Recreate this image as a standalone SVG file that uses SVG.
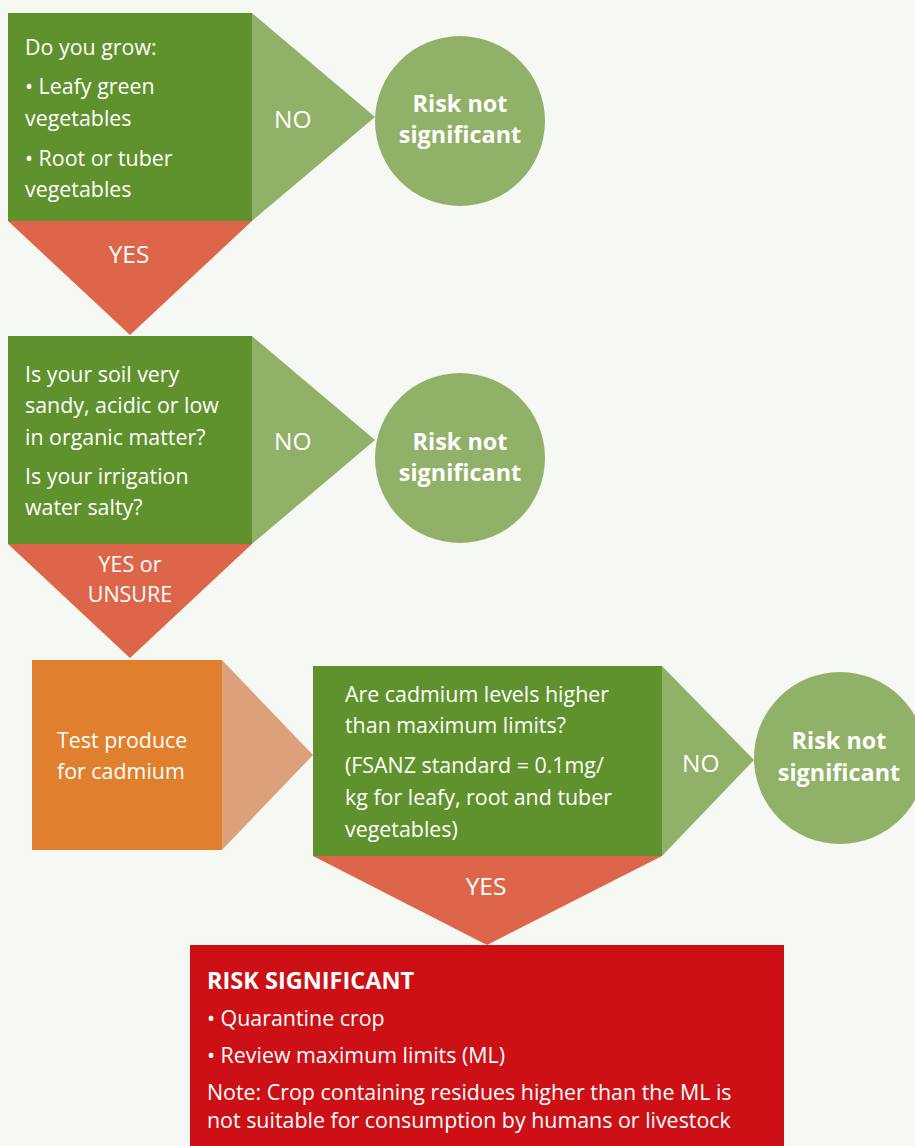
<svg xmlns="http://www.w3.org/2000/svg" width="915" height="1146" viewBox="0 0 915 1146">
<style>
text{font-family:"Open Sans","Noto Sans","Liberation Sans",sans-serif;fill:#ffffff;}
.t{font-size:21.4px;}
.lbl{font-size:24.5px;}
.lbs{font-size:21.5px;}
.b{font-size:23.4px;font-weight:bold;}
.h{font-size:23.5px;font-weight:bold;}
.q{fill:#5f922d;}
.no{fill:#91b068;}
.yes{fill:#dd664a;}
</style>
<rect x="0" y="0" width="915" height="1146" fill="#f6f8f3"/>
<g id="connectors">
  <g id="no1"><polygon class="no" points="252,13 375,117 252,221"/><text class="lbl" x="274" y="128">NO</text></g>
  <g id="yes1"><polygon class="yes" points="8,221 252,221 130,335"/><text class="lbl" x="129" y="263" text-anchor="middle">YES</text></g>
  <g id="no2"><polygon class="no" points="252,336 375,440 252,544"/><text class="lbl" x="274" y="450">NO</text></g>
  <g id="yes2"><polygon class="yes" points="8,544 252,544 130,658"/><text class="lbs" x="130" y="572" text-anchor="middle">YES or</text><text class="lbs" x="130" y="602" text-anchor="middle">UNSURE</text></g>
  <g id="arrow3"><polygon fill="#dca17a" points="222,660 313,755 222,850"/></g>
  <g id="no3"><polygon class="no" points="662,666 754,760 662,856"/><text class="lbl" x="682" y="772">NO</text></g>
  <g id="yes3"><polygon class="yes" points="313,856 662,856 487,945"/><text class="lbl" x="486" y="895" text-anchor="middle">YES</text></g>
</g>
<g id="q1">
  <rect class="q" x="8" y="13" width="244" height="208"/>
  <text class="t" x="25" y="55">Do you grow:</text>
  <text class="t" x="25" y="94">• Leafy green</text>
  <text class="t" x="25" y="126">vegetables</text>
  <text class="t" x="25" y="166">• Root or tuber</text>
  <text class="t" x="25" y="197">vegetables</text>
</g>
<g id="r1">
  <circle class="no" cx="460" cy="121" r="85"/>
  <text class="b" x="460" y="112" text-anchor="middle">Risk not</text>
  <text class="b" x="460" y="143" text-anchor="middle">significant</text>
</g>
<g id="q2">
  <rect class="q" x="8" y="336" width="244" height="208"/>
  <text class="t" x="25" y="382">Is your soil very</text>
  <text class="t" x="25" y="413">sandy, acidic or low</text>
  <text class="t" x="25" y="445">in organic matter?</text>
  <text class="t" x="25" y="484">Is your irrigation</text>
  <text class="t" x="25" y="515">water salty?</text>
</g>
<g id="r2">
  <circle class="no" cx="460" cy="458" r="85"/>
  <text class="b" x="460" y="450" text-anchor="middle">Risk not</text>
  <text class="b" x="460" y="481" text-anchor="middle">significant</text>
</g>
<g id="test">
  <rect fill="#e07f2e" x="32" y="660" width="190" height="190"/>
  <text class="t" x="57" y="748">Test produce</text>
  <text class="t" x="57" y="779">for cadmium</text>
</g>
<g id="q3">
  <rect class="q" x="313" y="666" width="349" height="190"/>
  <text class="t" x="345" y="702">Are cadmium levels higher</text>
  <text class="t" x="345" y="733">than maximum limits?</text>
  <text class="t" x="345" y="773">(FSANZ standard = 0.1mg/</text>
  <text class="t" x="345" y="805">kg for leafy, root and tuber</text>
  <text class="t" x="345" y="837">vegetables)</text>
</g>
<g id="r3">
  <circle class="no" cx="840" cy="758" r="86"/>
  <text class="b" x="839" y="749" text-anchor="middle">Risk not</text>
  <text class="b" x="839" y="781" text-anchor="middle">significant</text>
</g>
<g id="risk">
  <rect fill="#cc1016" x="190" y="945" width="594" height="201"/>
  <text class="h" x="207" y="989">RISK SIGNIFICANT</text>
  <text class="t" x="207" y="1026">• Quarantine crop</text>
  <text class="t" x="207" y="1063">• Review maximum limits (ML)</text>
  <text class="t" x="207" y="1100">Note: Crop containing residues higher than the ML is</text>
  <text class="t" x="207" y="1128">not suitable for consumption by humans or livestock</text>
</g>
</svg>
